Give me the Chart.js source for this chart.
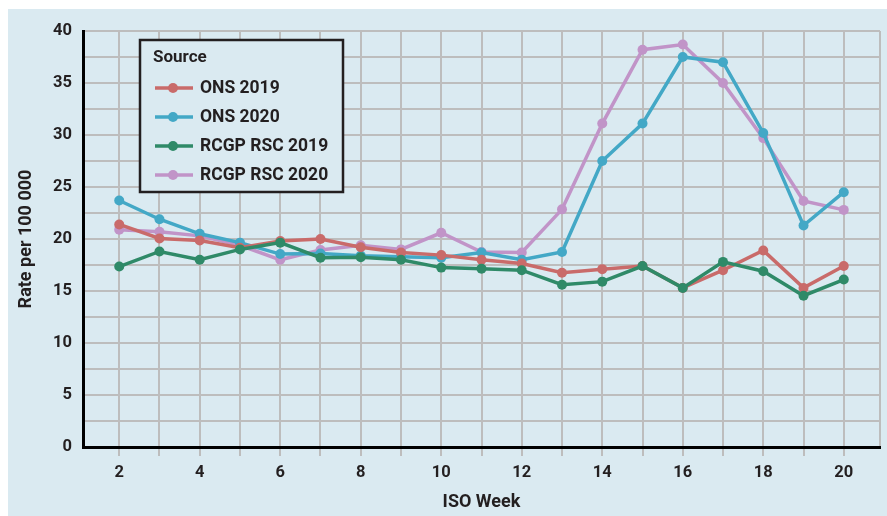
<!DOCTYPE html>
<html>
<head>
<meta charset="utf-8">
<script src="https://cdn.jsdelivr.net/npm/chart.js@4.4.1/dist/chart.umd.min.js"></script>
<style>
  html, body { margin: 0; padding: 0; background: #fff; }
  #chart { display: block; }
</style>
</head>
<body>
<canvas id="chart" width="887" height="516"></canvas>
<script>
// values, weeks 2..20
var weeks = [2, 3, 4, 5, 6, 7, 8, 9, 10, 11, 12, 13, 14, 15, 16, 17, 18, 19, 20];
var ons2019 = [21.4, 20.05, 19.85, 19.15, 19.8, 20.0, 19.2, 18.7, 18.45, 18.0, 17.65, 16.75, 17.1, 17.4, 15.3, 17.0, 18.9, 15.3, 17.4];
var ons2020 = [23.7, 21.9, 20.5, 19.65, 18.55, 18.6, 18.4, 18.3, 18.2, 18.7, 18.0, 18.75, 27.5, 31.1, 37.5, 37.0, 30.2, 21.3, 24.5];
var rcgp2019 = [17.35, 18.8, 18.0, 19.0, 19.65, 18.2, 18.25, 18.0, 17.25, 17.15, 17.0, 15.6, 15.9, 17.4, 15.3, 17.8, 16.9, 14.55, 16.1];
var rcgp2020 = [20.9, 20.7, 20.3, 19.4, 18.0, 18.95, 19.4, 19.0, 20.6, 18.75, 18.7, 22.85, 31.1, 38.2, 38.7, 35.0, 29.7, 23.65, 22.8];
var yTicks = [0, 5, 10, 15, 20, 25, 30, 35, 40];

var FONT = 'Roboto';
var INK = '#231f20';
var PANEL = '#daeaf1';
var GRID = '#bdbdbd';

var series = [
  { label: 'ONS 2019', data: ons2019, color: '#c96b6a', order: 1 },
  { label: 'ONS 2020', data: ons2020, color: '#43a8c6', order: 2 },
  { label: 'RCGP RSC 2019', data: rcgp2019, color: '#2f8a68', order: 0 },
  { label: 'RCGP RSC 2020', data: rcgp2020, color: '#c194c8', order: 3 }
];

function toPoints(vals) {
  return vals.map(function(v, i) { return { x: weeks[i], y: v }; });
}

// light blue panel behind everything
var panelPlugin = {
  id: 'panel',
  beforeDraw: function(chart) {
    var ctx = chart.ctx;
    ctx.save();
    ctx.fillStyle = '#fff';
    ctx.fillRect(0, 0, chart.width, chart.height);
    ctx.fillStyle = PANEL;
    ctx.fillRect(8, 9, chart.width - 8, chart.height - 9);
    ctx.restore();
  }
};

// boxed legend inside the plot
var legendPlugin = {
  id: 'boxLegend',
  afterDraw: function(chart) {
    var ctx = chart.ctx;
    ctx.save();
    ctx.fillStyle = PANEL;
    ctx.fillRect(140, 40, 203, 152);
    ctx.strokeStyle = INK;
    ctx.lineWidth = 2.5;
    ctx.strokeRect(140, 40, 203, 152);
    ctx.fillStyle = INK;
    ctx.textBaseline = 'middle';
    ctx.font = 'bold 17px ' + FONT;
    ctx.fillText('Source', 153, 58);
    var rows = [88, 117, 146, 175];
    ctx.font = 'bold 17.5px ' + FONT;
    series.forEach(function(s, i) {
      var y = rows[i];
      ctx.strokeStyle = s.color;
      ctx.lineWidth = 3.5;
      ctx.beginPath();
      ctx.moveTo(155, y);
      ctx.lineTo(193, y);
      ctx.stroke();
      ctx.fillStyle = s.color;
      ctx.beginPath();
      ctx.arc(173, y, 5, 0, Math.PI * 2);
      ctx.fill();
      ctx.fillStyle = INK;
      ctx.fillText(s.label, 200, y + 1);
    });
    ctx.restore();
  }
};

var ctx = document.getElementById('chart').getContext('2d');
var myChart = new Chart(ctx, {
  type: 'line',
  data: {
    datasets: series.map(function(s) {
      return {
        label: s.label,
        data: toPoints(s.data),
        borderColor: s.color,
        backgroundColor: s.color,
        pointBackgroundColor: s.color,
        pointBorderWidth: 0,
        pointRadius: 5,
        borderWidth: 3.5,
        tension: 0,
        order: s.order
      };
    })
  },
  options: {
    responsive: false,
    animation: false,
    layout: { padding: { top: 31, right: 5, left: 0, bottom: 0 } },
    plugins: {
      legend: { display: false },
      tooltip: { enabled: false }
    },
    scales: {
      x: {
        type: 'linear',
        min: 1.1,
        max: 20.9,
        afterBuildTicks: function(s) {
          s.ticks = weeks.map(function(w) { return { value: w }; });
          s.ticks.push({ value: 20.9 });
        },
        afterFit: function(s) { s.height = 69; },
        ticks: {
          autoSkip: false,
          maxRotation: 0,
          padding: 7,
          color: INK,
          font: { family: FONT, size: 16.5, weight: 'bold' },
          callback: function(v) { return v % 2 === 0 ? v : ''; }
        },
        grid: {
          color: GRID,
          lineWidth: 2,
          drawTicks: true,
          tickLength: 9,
          tickColor: function(c) { return c.tick && c.tick.value === 20.9 ? 'rgba(0,0,0,0)' : GRID; }
        },
        border: { display: true, color: '#000', width: 3 },
        title: {
          display: true,
          text: 'ISO Week',
          color: INK,
          font: { family: FONT, size: 18, weight: 'bold' },
          padding: { top: 0, bottom: 3 }
        }
      },
      y: {
        min: 0,
        max: 40,
        afterBuildTicks: function(s) {
          var t = [];
          for (var i = 0; i < yTicks.length; i++) {
            t.push({ value: yTicks[i] });
            if (i < yTicks.length - 1) t.push({ value: yTicks[i] + 2.5 });
          }
          s.ticks = t;
        },
        afterFit: function(s) { s.width = 83; },
        ticks: {
          padding: 11,
          color: INK,
          font: { family: FONT, size: 16.5, weight: 'bold' },
          callback: function(v) { return v % 5 === 0 ? v : ''; }
        },
        grid: { color: GRID, lineWidth: 2, drawTicks: false },
        border: { display: true, color: '#000', width: 3 },
        title: {
          display: true,
          text: 'Rate per 100 000',
          color: INK,
          font: { family: FONT, size: 18, weight: 'bold' },
          padding: { top: 16, bottom: 0 }
        }
      }
    }
  },
  plugins: [panelPlugin, legendPlugin]
});
</script>
</body>
</html>
